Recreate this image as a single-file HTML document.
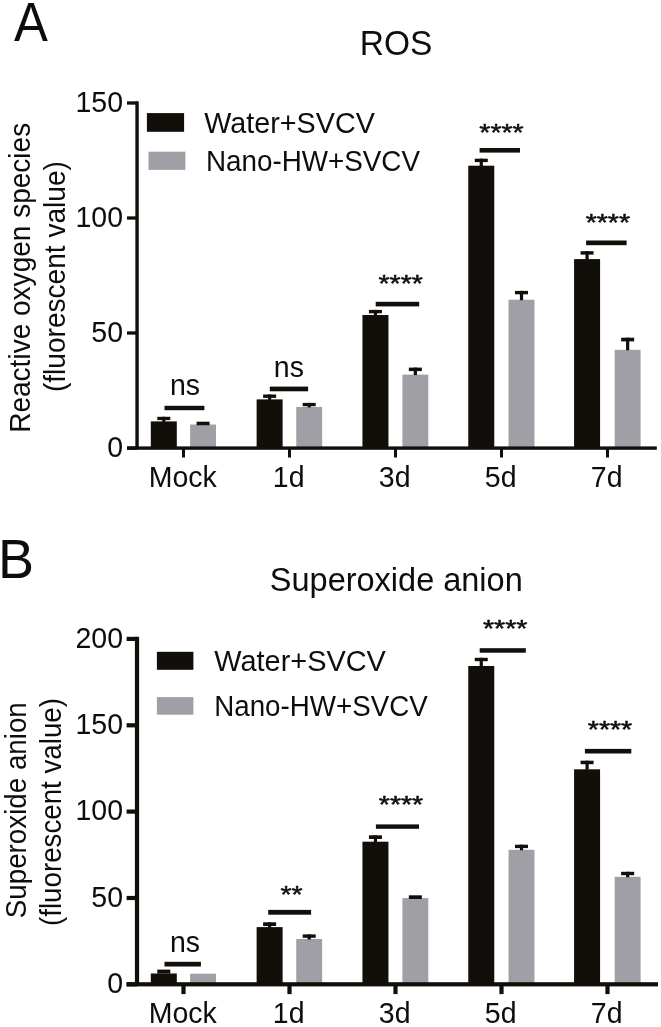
<!DOCTYPE html>
<html><head><meta charset="utf-8"><title>ROS and Superoxide anion</title>
<style>
html,body{margin:0;padding:0;background:#fff;width:661px;height:1027px;overflow:hidden;}
svg{display:block;}
text{font-family:"Liberation Sans", Arial, Helvetica, sans-serif;}
</style></head>
<body>
<svg width="661" height="1027" viewBox="0 0 661 1027">
<g font-family='"Liberation Sans", Arial, Helvetica, sans-serif' fill="#0d0d0d">
<rect x="0" y="0" width="661" height="1027" fill="#ffffff"/>
<text transform="translate(14.0,41.0) scale(0.94,1.035)" font-size="54">A</text>
<text transform="translate(396.00,54.60) scale(1,1.04)" font-size="33.5" text-anchor="middle">ROS</text>
<text transform="translate(-2.0,578.2) scale(1,1.025)" font-size="54">B</text>
<text transform="translate(396.30,590.50) scale(1,1.04)" font-size="32.5" text-anchor="middle">Superoxide anion</text>
<text transform="translate(30.0,277.8) rotate(-90)" font-size="29.5" text-anchor="middle" textLength="310" lengthAdjust="spacingAndGlyphs">Reactive oxygen species</text>
<text transform="translate(64.5,276.6) rotate(-90)" font-size="29" text-anchor="middle" textLength="231" lengthAdjust="spacingAndGlyphs">(fluorescent value)</text>
<text transform="translate(26.0,810.2) rotate(-90)" font-size="29.5" text-anchor="middle" textLength="216" lengthAdjust="spacingAndGlyphs">Superoxide anion</text>
<text transform="translate(60.5,812.0) rotate(-90)" font-size="29" text-anchor="middle" textLength="228" lengthAdjust="spacingAndGlyphs">(fluorescent value)</text>
<rect x="150.80" y="421.40" width="26.00" height="26.70" fill="#120e09"/>
<rect x="190.10" y="424.50" width="25.90" height="23.60" fill="#a09fa5"/>
<rect x="157.30" y="416.80" width="13.00" height="3.30" fill="#120e09"/>
<rect x="162.20" y="416.80" width="3.20" height="5.10" fill="#120e09"/>
<rect x="196.55" y="421.70" width="13.00" height="3.50" fill="#120e09"/>
<rect x="256.62" y="399.40" width="26.00" height="48.70" fill="#120e09"/>
<rect x="296.25" y="406.90" width="25.90" height="41.20" fill="#a09fa5"/>
<rect x="263.12" y="394.50" width="13.00" height="3.40" fill="#120e09"/>
<rect x="268.02" y="394.50" width="3.20" height="5.40" fill="#120e09"/>
<rect x="302.70" y="402.90" width="13.00" height="3.30" fill="#120e09"/>
<rect x="307.60" y="402.90" width="3.20" height="4.50" fill="#120e09"/>
<rect x="362.44" y="315.00" width="26.00" height="133.10" fill="#120e09"/>
<rect x="402.40" y="374.60" width="25.90" height="73.50" fill="#a09fa5"/>
<rect x="368.94" y="309.90" width="13.00" height="3.40" fill="#120e09"/>
<rect x="373.84" y="309.90" width="3.20" height="5.60" fill="#120e09"/>
<rect x="408.85" y="367.60" width="13.00" height="3.50" fill="#120e09"/>
<rect x="413.75" y="367.60" width="3.20" height="7.50" fill="#120e09"/>
<rect x="468.26" y="165.70" width="26.00" height="282.40" fill="#120e09"/>
<rect x="508.55" y="299.70" width="25.90" height="148.40" fill="#a09fa5"/>
<rect x="474.76" y="158.70" width="13.00" height="3.40" fill="#120e09"/>
<rect x="479.66" y="158.70" width="3.20" height="7.50" fill="#120e09"/>
<rect x="515.00" y="290.90" width="13.00" height="3.40" fill="#120e09"/>
<rect x="519.90" y="290.90" width="3.20" height="9.30" fill="#120e09"/>
<rect x="574.08" y="259.10" width="26.00" height="189.00" fill="#120e09"/>
<rect x="614.70" y="349.80" width="25.90" height="98.30" fill="#a09fa5"/>
<rect x="580.58" y="251.20" width="13.00" height="3.40" fill="#120e09"/>
<rect x="585.48" y="251.20" width="3.20" height="8.40" fill="#120e09"/>
<rect x="621.15" y="337.70" width="13.00" height="3.70" fill="#120e09"/>
<rect x="626.05" y="337.70" width="3.20" height="12.60" fill="#120e09"/>
<rect x="135.35" y="101.35" width="3.40" height="346.75" fill="#120e09"/>
<rect x="127.00" y="101.35" width="10.05" height="3.30" fill="#120e09"/>
<text transform="translate(123.00,111.60) scale(1,1.04)" font-size="28.5" text-anchor="end">150</text>
<rect x="127.00" y="216.35" width="10.05" height="3.30" fill="#120e09"/>
<text transform="translate(123.00,226.60) scale(1,1.04)" font-size="28.5" text-anchor="end">100</text>
<rect x="127.00" y="331.35" width="10.05" height="3.30" fill="#120e09"/>
<text transform="translate(123.00,341.60) scale(1,1.04)" font-size="28.5" text-anchor="end">50</text>
<rect x="127.00" y="446.45" width="10.05" height="3.30" fill="#120e09"/>
<text transform="translate(123.00,456.70) scale(1,1.04)" font-size="28.5" text-anchor="end">0</text>
<rect x="127.00" y="446.40" width="529.80" height="3.40" fill="#120e09"/>
<rect x="182.00" y="448.10" width="3.00" height="9.40" fill="#120e09"/>
<text transform="translate(182.70,486.80) scale(1,1.04)" font-size="28.5" text-anchor="middle">Mock</text>
<rect x="288.00" y="448.10" width="3.00" height="9.40" fill="#120e09"/>
<text transform="translate(288.70,486.80) scale(1,1.04)" font-size="28.5" text-anchor="middle">1d</text>
<rect x="394.00" y="448.10" width="3.00" height="9.40" fill="#120e09"/>
<text transform="translate(394.70,486.80) scale(1,1.04)" font-size="28.5" text-anchor="middle">3d</text>
<rect x="500.00" y="448.10" width="3.00" height="9.40" fill="#120e09"/>
<text transform="translate(500.70,486.80) scale(1,1.04)" font-size="28.5" text-anchor="middle">5d</text>
<rect x="606.00" y="448.10" width="3.00" height="9.40" fill="#120e09"/>
<text transform="translate(606.70,486.80) scale(1,1.04)" font-size="28.5" text-anchor="middle">7d</text>
<rect x="164.50" y="405.80" width="39.90" height="4.40" fill="#120e09"/>
<text transform="translate(170.00,395.10) scale(1,1.06)" font-size="28.5" text-anchor="start">ns</text>
<rect x="269.80" y="386.60" width="38.30" height="4.70" fill="#120e09"/>
<text transform="translate(273.80,377.00) scale(1,1.06)" font-size="28.5" text-anchor="start">ns</text>
<rect x="375.70" y="301.80" width="43.50" height="4.60" fill="#120e09"/>
<text transform="translate(378.50,292.20) scale(1,0.86)" font-size="28.5" text-anchor="start" stroke="#111" stroke-width="0.6">****</text>
<rect x="479.60" y="148.00" width="40.40" height="4.60" fill="#120e09"/>
<text transform="translate(479.30,141.20) scale(1,0.86)" font-size="28.5" text-anchor="start" stroke="#111" stroke-width="0.6">****</text>
<rect x="586.10" y="240.50" width="40.50" height="4.70" fill="#120e09"/>
<text transform="translate(585.70,230.90) scale(1,0.86)" font-size="28.5" text-anchor="start" stroke="#111" stroke-width="0.6">****</text>
<rect x="146.90" y="113.10" width="37.20" height="18.70" fill="#120e09"/>
<text transform="translate(204.30,133.00) scale(1,1.04)" font-size="28.5" text-anchor="start" textLength="170.5" lengthAdjust="spacingAndGlyphs">Water+SVCV</text>
<rect x="148.50" y="151.70" width="36.90" height="18.20" fill="#a09fa5"/>
<text transform="translate(206.00,171.20) scale(1,1.04)" font-size="28.5" text-anchor="start" textLength="214.0" lengthAdjust="spacingAndGlyphs">Nano-HW+SVCV</text>
<rect x="150.80" y="973.50" width="26.00" height="10.80" fill="#120e09"/>
<rect x="190.10" y="973.70" width="25.90" height="10.60" fill="#a09fa5"/>
<rect x="157.30" y="969.60" width="13.00" height="4.00" fill="#120e09"/>
<rect x="256.62" y="927.10" width="26.00" height="57.20" fill="#120e09"/>
<rect x="296.25" y="939.00" width="25.90" height="45.30" fill="#a09fa5"/>
<rect x="263.12" y="922.30" width="13.00" height="3.70" fill="#120e09"/>
<rect x="268.02" y="922.30" width="3.20" height="5.30" fill="#120e09"/>
<rect x="302.70" y="934.40" width="13.00" height="3.40" fill="#120e09"/>
<rect x="307.60" y="934.40" width="3.20" height="5.10" fill="#120e09"/>
<rect x="362.44" y="841.70" width="26.00" height="142.60" fill="#120e09"/>
<rect x="402.40" y="898.10" width="25.90" height="86.20" fill="#a09fa5"/>
<rect x="368.94" y="835.30" width="13.00" height="3.70" fill="#120e09"/>
<rect x="373.84" y="835.30" width="3.20" height="6.90" fill="#120e09"/>
<rect x="408.85" y="895.30" width="13.00" height="3.70" fill="#120e09"/>
<rect x="468.26" y="666.00" width="26.00" height="318.30" fill="#120e09"/>
<rect x="508.55" y="849.80" width="25.90" height="134.50" fill="#a09fa5"/>
<rect x="474.76" y="657.80" width="13.00" height="3.40" fill="#120e09"/>
<rect x="479.66" y="657.80" width="3.20" height="8.70" fill="#120e09"/>
<rect x="515.00" y="844.70" width="13.00" height="3.40" fill="#120e09"/>
<rect x="519.90" y="844.70" width="3.20" height="5.60" fill="#120e09"/>
<rect x="574.08" y="769.30" width="26.00" height="215.00" fill="#120e09"/>
<rect x="614.70" y="876.80" width="25.90" height="107.50" fill="#a09fa5"/>
<rect x="580.58" y="760.70" width="13.00" height="3.50" fill="#120e09"/>
<rect x="585.48" y="760.70" width="3.20" height="9.10" fill="#120e09"/>
<rect x="621.15" y="871.80" width="13.00" height="3.40" fill="#120e09"/>
<rect x="626.05" y="871.80" width="3.20" height="5.50" fill="#120e09"/>
<rect x="134.90" y="636.80" width="4.20" height="347.50" fill="#120e09"/>
<rect x="126.60" y="636.80" width="10.40" height="4.20" fill="#120e09"/>
<text transform="translate(123.00,647.50) scale(1,1.04)" font-size="28.5" text-anchor="end">200</text>
<rect x="126.60" y="723.20" width="10.40" height="4.20" fill="#120e09"/>
<text transform="translate(123.00,733.90) scale(1,1.04)" font-size="28.5" text-anchor="end">150</text>
<rect x="126.60" y="809.50" width="10.40" height="4.20" fill="#120e09"/>
<text transform="translate(123.00,820.20) scale(1,1.04)" font-size="28.5" text-anchor="end">100</text>
<rect x="126.60" y="895.90" width="10.40" height="4.20" fill="#120e09"/>
<text transform="translate(123.00,906.60) scale(1,1.04)" font-size="28.5" text-anchor="end">50</text>
<rect x="126.60" y="982.20" width="10.40" height="4.20" fill="#120e09"/>
<text transform="translate(123.00,992.90) scale(1,1.04)" font-size="28.5" text-anchor="end">0</text>
<rect x="126.60" y="982.20" width="531.40" height="4.20" fill="#120e09"/>
<rect x="181.40" y="984.30" width="4.20" height="9.80" fill="#120e09"/>
<text transform="translate(182.70,1023.40) scale(1,1.04)" font-size="28.5" text-anchor="middle">Mock</text>
<rect x="287.40" y="984.30" width="4.20" height="9.80" fill="#120e09"/>
<text transform="translate(288.70,1023.40) scale(1,1.04)" font-size="28.5" text-anchor="middle">1d</text>
<rect x="393.40" y="984.30" width="4.20" height="9.80" fill="#120e09"/>
<text transform="translate(394.70,1023.40) scale(1,1.04)" font-size="28.5" text-anchor="middle">3d</text>
<rect x="499.40" y="984.30" width="4.20" height="9.80" fill="#120e09"/>
<text transform="translate(500.70,1023.40) scale(1,1.04)" font-size="28.5" text-anchor="middle">5d</text>
<rect x="605.40" y="984.30" width="4.20" height="9.80" fill="#120e09"/>
<text transform="translate(606.70,1023.40) scale(1,1.04)" font-size="28.5" text-anchor="middle">7d</text>
<rect x="164.50" y="961.80" width="36.40" height="4.70" fill="#120e09"/>
<text transform="translate(170.00,951.80) scale(1,1.06)" font-size="28.5" text-anchor="start">ns</text>
<rect x="268.20" y="909.90" width="42.90" height="4.80" fill="#120e09"/>
<text transform="translate(280.40,902.50) scale(1,0.86)" font-size="28.5" text-anchor="start" stroke="#111" stroke-width="0.6">**</text>
<rect x="375.90" y="824.40" width="43.10" height="4.40" fill="#120e09"/>
<text transform="translate(378.80,812.60) scale(1,0.86)" font-size="28.5" text-anchor="start" stroke="#111" stroke-width="0.6">****</text>
<rect x="479.70" y="648.20" width="46.10" height="4.50" fill="#120e09"/>
<text transform="translate(483.00,637.20) scale(1,0.86)" font-size="28.5" text-anchor="start" stroke="#111" stroke-width="0.6">****</text>
<rect x="584.90" y="748.90" width="46.40" height="4.60" fill="#120e09"/>
<text transform="translate(587.80,738.40) scale(1,0.86)" font-size="28.5" text-anchor="start" stroke="#111" stroke-width="0.6">****</text>
<rect x="156.90" y="651.80" width="36.50" height="18.00" fill="#120e09"/>
<text transform="translate(214.30,671.30) scale(1,1.04)" font-size="28.5" text-anchor="start" textLength="171.5" lengthAdjust="spacingAndGlyphs">Water+SVCV</text>
<rect x="156.90" y="697.10" width="36.50" height="17.60" fill="#a09fa5"/>
<text transform="translate(214.20,716.40) scale(1,1.04)" font-size="28.5" text-anchor="start" textLength="213.5" lengthAdjust="spacingAndGlyphs">Nano-HW+SVCV</text>
</g></svg>
</body></html>
